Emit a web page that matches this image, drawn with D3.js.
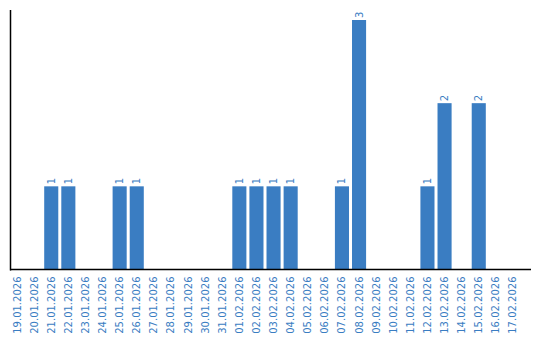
<!DOCTYPE html>
<html>
<head>
<meta charset="utf-8">
<script src="https://cdn.jsdelivr.net/npm/d3@7"></script>
<style>
  body { margin: 0; background: #fff; }
  svg { display: block; font-family: "DejaVu Sans", sans-serif; }
</style>
</head>
<body>
<script>
let dates = [
    '19.01.2026', '20.01.2026', '21.01.2026', '22.01.2026', '23.01.2026',
    '24.01.2026', '25.01.2026', '26.01.2026', '27.01.2026', '28.01.2026',
    '29.01.2026', '30.01.2026', '31.01.2026', '01.02.2026', '02.02.2026',
    '03.02.2026', '04.02.2026', '05.02.2026', '06.02.2026', '07.02.2026',
    '08.02.2026', '09.02.2026', '10.02.2026', '11.02.2026', '12.02.2026',
    '13.02.2026', '14.02.2026', '15.02.2026', '16.02.2026', '17.02.2026'
]

let counts = [
    0, 0, 1, 1, 0,
    0, 1, 1, 0, 0,
    0, 0, 0, 1, 1,
    1, 1, 0, 0, 1,
    3, 0, 0, 0, 1,
    2, 0, 2, 0, 0
]

let data = dates.map((d, i) => ({date: d, count: counts[i]}))

SVG_WIDTH = 540
SVG_HEIGHT = 340
BAR_COLOR = '#3a7dc2'
BASE_Y = 269.5

let svg = d3.select('body').append('svg')
            .attr('width', SVG_WIDTH)
            .attr('height', SVG_HEIGHT)

let x = d3.scaleBand()
          .domain(dates)
          .range([10, 520])
          .paddingInner(3 / 17)
          .paddingOuter(0)
          .align(0)

let y = d3.scaleLinear()
          .domain([0, d3.max(counts)])
          .range([BASE_Y, 20])

// bars
svg.selectAll('.bar')
   .data(data.filter(d => d.count > 0))
   .join('rect')
   .classed('bar', true)
   .attr('x', d => x(d.date))
   .attr('y', d => y(d.count))
   .attr('width', x.bandwidth())
   .attr('height', d => BASE_Y - y(d.count))
   .style('fill', BAR_COLOR)

// value labels on top of bars
svg.selectAll('.val')
   .data(data.filter(d => d.count > 0))
   .join('text')
   .classed('val', true)
   .attr('transform', d => `translate(${x(d.date) + x.bandwidth() / 2 + 3.5},${y(d.count) - 2}) rotate(-90)`)
   .attr('text-anchor', 'start')
   .style('font-size', '10px')
   .style('fill', BAR_COLOR)
   .text(d => d.count)

// x axis
let xAxis = svg.append('g')
               .attr('transform', `translate(0,${BASE_Y})`)
               .call(d3.axisBottom(x).tickSize(0).tickPadding(0))

xAxis.select('.domain').remove()
xAxis.selectAll('text')
     .attr('transform', 'translate(3.5,7) rotate(-90)')
     .attr('text-anchor', 'end')
     .attr('dy', 0)
     .attr('y', 0)
     .attr('x', 0)
     .style('font-family', '"DejaVu Sans", sans-serif')
     .style('font-size', '10px')
     .style('fill', BAR_COLOR)

// axis lines
svg.append('line')
   .attr('x1', 10.5).attr('x2', 10.5)
   .attr('y1', 10).attr('y2', BASE_Y + 1)
   .style('stroke', '#000').style('stroke-width', 1.5)

svg.append('line')
   .attr('x1', 10).attr('x2', 531)
   .attr('y1', BASE_Y).attr('y2', BASE_Y)
   .style('stroke', '#000').style('stroke-width', 1.5)
</script>
</body>
</html>
